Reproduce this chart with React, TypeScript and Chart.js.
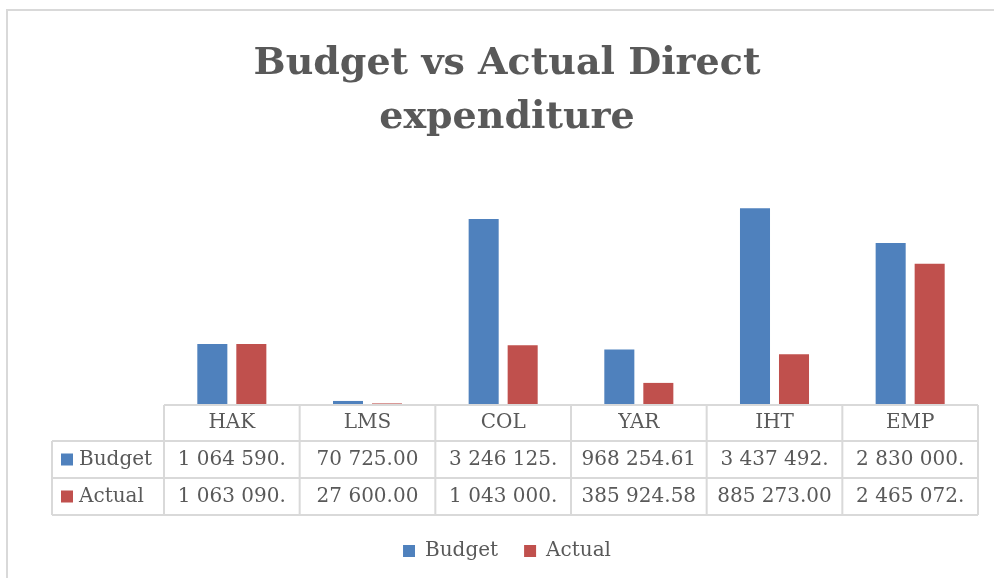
import React, { useEffect, useRef } from "react";
import { Chart, registerables } from "chart.js";

Chart.register(...registerables);

const categories = ["HAK", "LMS", "COL", "YAR", "IHT", "EMP"];
const budget = [1064590, 70725, 3246125, 968254.61, 3437492, 2830000];
const actual = [1063090, 27600, 1043000, 385924.58, 885273, 2465072];
const seriesNames = ["Budget", "Actual"];
const titleLines = ["Budget vs Actual Direct", "expenditure"];
const yMax = 4000000;

const BLUE = "#4F81BD";
const RED = "#C0504D";
const TEXT = "#595959";
const LINE = "#D9D9D9";
const FONT = "'DejaVu Serif', serif";

function fmt(v: number): string {
  const [i, d] = v.toFixed(2).split(".");
  return i.replace(/\B(?=(\d{3})+(?!\d))/g, " ") + "." + d;
}

const borderPlugin = {
  id: "outerBorder",
  beforeDraw(chart: any) {
    const { ctx } = chart;
    ctx.save();
    ctx.strokeStyle = LINE;
    ctx.lineWidth = 2;
    ctx.strokeRect(7, 10, 1200, 800);
    ctx.restore();
  },
};

const tablePlugin = {
  id: "dataTable",
  afterDraw(chart: any) {
    const { ctx, chartArea } = chart;
    const left = chartArea.left;
    const right = chartArea.right;
    const top = chartArea.bottom;
    const n = categories.length;
    const w = (right - left) / n;
    const rows = [top, top + 36, top + 73, top + 110];
    const labelLeft = 52;
    ctx.save();
    ctx.strokeStyle = LINE;
    ctx.lineWidth = 2;
    ctx.beginPath();
    ctx.moveTo(left, rows[0]);
    ctx.lineTo(right, rows[0]);
    for (let r = 1; r < rows.length; r++) {
      ctx.moveTo(labelLeft, rows[r]);
      ctx.lineTo(right, rows[r]);
    }
    for (let i = 0; i <= n; i++) {
      const x = left + i * w;
      ctx.moveTo(x, rows[0]);
      ctx.lineTo(x, rows[3]);
    }
    ctx.moveTo(labelLeft, rows[1]);
    ctx.lineTo(labelLeft, rows[3]);
    ctx.stroke();

    ctx.fillStyle = TEXT;
    ctx.font = "20px " + FONT;
    ctx.textAlign = "center";
    ctx.textBaseline = "middle";
    const xs = chart.scales.x;
    categories.forEach((c, i) => {
      ctx.fillText(c, xs.getPixelForValue(i), (rows[0] + rows[1]) / 2);
    });
    const series = [budget, actual];
    const colors = [BLUE, RED];
    series.forEach((vals, s) => {
      const cy = (rows[s + 1] + rows[s + 2]) / 2;
      ctx.fillStyle = colors[s];
      ctx.fillRect(61, cy - 6, 12, 12);
      ctx.fillStyle = TEXT;
      ctx.textAlign = "left";
      ctx.fillText(seriesNames[s], 79, cy);
      ctx.textAlign = "center";
      vals.forEach((v, i) => {
        let t = fmt(v);
        while (t.length > 1 && ctx.measureText(t).width > w - 18) t = t.slice(0, -1);
        ctx.fillText(t, xs.getPixelForValue(i), cy);
      });
    });
    ctx.restore();
  },
};

export default function App() {
  const ref = useRef<HTMLCanvasElement | null>(null);
  useEffect(() => {
    if (!ref.current) return;
    const chart = new Chart(ref.current, {
      type: "bar",
      data: {
        labels: categories,
        datasets: [
          { label: seriesNames[0], data: budget, backgroundColor: BLUE, borderWidth: 0, categoryPercentage: 0.575, barPercentage: 0.77, yAxisID: "y" },
          { label: seriesNames[1], data: actual, backgroundColor: RED, borderWidth: 0, categoryPercentage: 0.575, barPercentage: 0.77, yAxisID: "y" },
        ],
      },
      options: {
        responsive: false,
        animation: false,
        layout: { padding: { left: 20, right: 0, top: 0, bottom: 29 } },
        plugins: {
          title: {
            display: true,
            text: titleLines,
            color: TEXT,
            font: { family: FONT, size: 38, weight: "bold", lineHeight: 1.42 },
            padding: { top: 37, bottom: 31 },
          },
          legend: {
            position: "bottom",
            labels: {
              boxWidth: 12,
              boxHeight: 12,
              padding: 26,
              color: TEXT,
              font: { family: FONT, size: 20 },
            },
          },
          tooltip: { enabled: false },
        },
        scales: {
          x: {
            display: true,
            grid: { display: false },
            border: { display: false },
            ticks: { display: false },
            afterFit: (s: any) => { s.height = 110; },
          },
          y: {
            display: true,
            min: 0,
            max: yMax,
            grid: { display: false },
            border: { display: false },
            ticks: { display: false },
            afterFit: (s: any) => { s.width = 144; },
          },
          y2: {
            type: "linear",
            position: "right",
            display: true,
            grid: { display: false },
            border: { display: false },
            ticks: { display: false },
            afterFit: (s: any) => { s.width = 16; },
          },
        },
      },
      plugins: [borderPlugin, tablePlugin],
    } as any);
    return () => chart.destroy();
  }, []);
  return (
    <div style={{ position: "fixed", left: 0, top: 0, width: 994, height: 578, overflow: "hidden", background: "#fff" }}>
      <canvas ref={ref} width={994} height={600} style={{ display: "block" }} />
    </div>
  );
}
